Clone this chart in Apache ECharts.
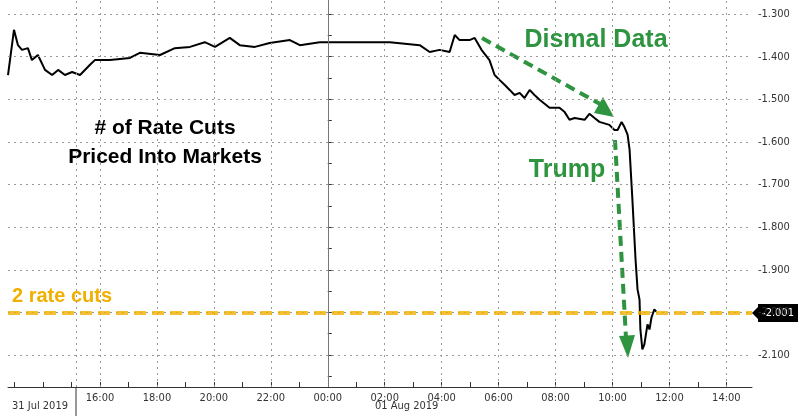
<!DOCTYPE html><html><head><meta charset="utf-8"><script src="https://cdn.jsdelivr.net/npm/echarts@6/dist/echarts.min.js"></script>
<style>body{margin:0;background:#fff}#c{width:800px;height:416px}</style></head><body><div id="c"></div><script>
// hours relative to 01 Aug 2019 00:00
const hours=[-11.23,-11.02,-10.88,-10.74,-10.53,-10.39,-10.18,-9.93,-9.68,-9.47,-9.23,-8.98,-8.70,-8.35,-8.18,-7.65,-6.95,-6.60,-5.89,-5.37,-4.84,-4.32,-3.96,-3.44,-3.09,-2.56,-2.04,-1.33,-0.98,-0.28,0.42,1.12,2.18,3.23,3.58,3.93,4.28,4.46,4.63,4.98,5.16,5.40,5.68,5.86,6.04,6.21,6.39,6.56,6.74,6.91,7.09,7.26,7.44,7.79,8.14,8.32,8.49,8.67,9.02,9.19,9.37,9.54,9.89,10.07,10.18,10.32,10.42,10.53,10.60,10.70,10.81,10.88,10.95,10.98,11.05,11.12,11.23,11.30,11.37,11.47,11.54];
const values=[-1.443,-1.337,-1.373,-1.384,-1.380,-1.408,-1.396,-1.431,-1.443,-1.431,-1.443,-1.436,-1.443,-1.419,-1.408,-1.408,-1.403,-1.391,-1.396,-1.380,-1.377,-1.366,-1.377,-1.356,-1.373,-1.377,-1.368,-1.361,-1.373,-1.366,-1.366,-1.366,-1.366,-1.373,-1.389,-1.384,-1.389,-1.349,-1.361,-1.361,-1.356,-1.384,-1.408,-1.443,-1.455,-1.466,-1.478,-1.490,-1.485,-1.497,-1.478,-1.490,-1.501,-1.520,-1.520,-1.530,-1.548,-1.544,-1.548,-1.534,-1.544,-1.553,-1.560,-1.572,-1.572,-1.553,-1.565,-1.583,-1.618,-1.736,-1.876,-1.946,-1.970,-2.040,-2.087,-2.075,-2.028,-2.040,-2.012,-1.993,-1.998];
const xTicks=[-8,-6,-4,-2,0,2,4,6,8,10,12,14];
const xLabels=['16:00','18:00','20:00','22:00','00:00','02:00','04:00','06:00','08:00','10:00','12:00','14:00'];
const yTicks=[-2.1,-2.0,-1.9,-1.8,-1.7,-1.6,-1.5,-1.4,-1.3];
const yMinor=[-2.15,-2.05,-1.95,-1.85,-1.75,-1.65,-1.55,-1.45,-1.35];
const lastValue=-2.001, cutsLevel=-2.0;
const ch=echarts.init(document.getElementById('c'));
const F='"DejaVu Sans Condensed", "Liberation Sans Narrow", sans-serif';
const grid=[];
xTicks.concat([-8.84]).forEach(h=>grid.push({xAxis:h,lineStyle:{color:'#999',type:[2,4],width:1}}));
yTicks.forEach(v=>grid.push({yAxis:v,lineStyle:{color:'#999',type:[2,4],width:1}}));
grid.push({xAxis:0,lineStyle:{color:'#777',type:'solid',width:1}});
ch.setOption({
 animation:false,
 grid:{left:8,right:48,top:0,bottom:29},
 xAxis:{type:'value',min:-11.23,max:14.9,splitLine:{show:false},
  axisLine:{lineStyle:{color:'#333'}},
  axisTick:{customValues:[-11,-10,-9,-8,-7,-6,-5,-4,-3,-2,-1,0,1,2,3,4,5,6,7,8,9,10,11,12,13,14],length:5,inside:true,lineStyle:{color:'#333'}},
  axisLabel:{customValues:xTicks,formatter:v=>xLabels[xTicks.indexOf(v)],color:'#333',fontFamily:F,fontSize:11,margin:6}},
 yAxis:{type:'value',position:'right',min:-2.175,max:-1.267,splitLine:{show:false},
  axisLine:{show:true,lineStyle:{color:'#333'}},
  axisTick:{customValues:yTicks.concat(yMinor),length:4,lineStyle:{color:'#333'}},
  axisLabel:{customValues:yTicks,formatter:v=>'-'+(-v).toFixed(3),color:'#333',fontFamily:F,fontSize:11,margin:6}},
 series:[{type:'line',data:hours.map((h,i)=>[h,values[i]]),symbol:'none',lineStyle:{color:'#000',width:2},
  markLine:{silent:true,symbol:'none',label:{show:false},data:grid.concat([{yAxis:cutsLevel,lineStyle:{color:'#f0b000',type:[12,6],width:4,opacity:0.8}}])}}],
 graphic:[
  {type:'text',left:12,top:401,style:{text:'31 Jul 2019',font:'11px '+F,fill:'#333'}},
  {type:'text',left:375,top:401,style:{text:'01 Aug 2019',font:'11px '+F,fill:'#333'}},
  {type:'line',shape:{x1:76,y1:387,x2:76,y2:416},style:{stroke:'#333',lineWidth:1}},
  {type:'text',x:165,y:128,style:{text:'# of Rate Cuts',font:'bold 21px Arial, sans-serif',fill:'#000',align:'center',verticalAlign:'middle'}},
  {type:'text',x:165,y:157,style:{text:'Priced Into Markets',font:'bold 21px Arial, sans-serif',fill:'#000',align:'center',verticalAlign:'middle'}},
  {type:'text',x:12,y:296,style:{text:'2 rate cuts',font:'bold 20px Arial, sans-serif',fill:'#f0b000',verticalAlign:'middle'}},
  {type:'text',x:596,y:40,style:{text:'Dismal Data',font:'bold 25px Arial, sans-serif',fill:'#2e9440',align:'center',verticalAlign:'middle'}},
  {type:'text',x:567,y:170,style:{text:'Trump',font:'bold 25px Arial, sans-serif',fill:'#2e9440',align:'center',verticalAlign:'middle'}},
  {type:'line',shape:{x1:482,y1:38,x2:600,y2:104},style:{stroke:'#2e9440',lineWidth:4,lineDash:[10,6]}},
  {type:'polygon',shape:{points:[[614,117],[594,113],[603,97]]},style:{fill:'#2e9440'}},
  {type:'line',shape:{x1:615,y1:140,x2:626,y2:338},style:{stroke:'#2e9440',lineWidth:4,lineDash:[10,6]}},
  {type:'polygon',shape:{points:[[628,358],[619,336],[635,335]]},style:{fill:'#2e9440'}},
  {type:'rect',shape:{x:758,y:304,width:40,height:18},style:{fill:'#000'}},
  {type:'polygon',shape:{points:[[752,313],[759,306],[759,320]]},style:{fill:'#000'}},
  {type:'text',x:778,y:313,style:{text:'-'+(-lastValue).toFixed(3),font:'11px '+F,fill:'#fff',align:'center',verticalAlign:'middle'}}
 ]
});
</script></body></html>
